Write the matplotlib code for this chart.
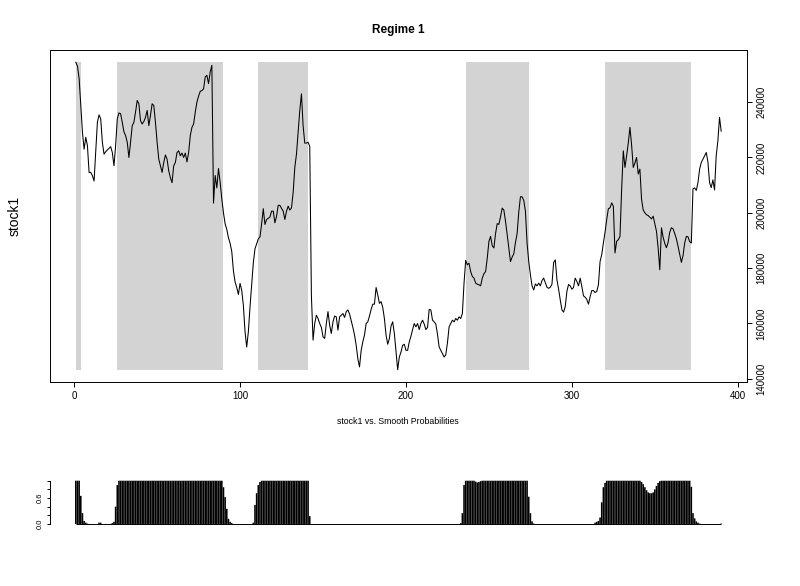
import numpy as np
import matplotlib
matplotlib.use('Agg')
import matplotlib.pyplot as plt

plt.rcParams['font.family'] = ['Liberation Sans', 'DejaVu Sans']

# ---- data ----
# stock1 series (in thousands), t = 1..390
stock1_k = [
    254.4, 253.0, 248.5, 238.8, 229.1, 223.0, 227.3, 224.3, 214.6, 214.6,
    213.4, 211.5, 221.8, 232.7, 235.4, 234.0, 225.5, 221.2, 222.1, 222.7,
    223.3, 223.9, 221.8, 217.0, 224.3, 234.0, 236.1, 235.8, 232.7, 229.3,
    227.9, 225.5, 220.0, 225.5, 231.5, 232.7, 236.4, 240.6, 239.4, 233.3,
    232.1, 233.0, 234.5, 237.0, 231.5, 235.2, 239.4, 238.8, 232.7, 225.5,
    219.4, 217.0, 214.6, 218.2, 220.9, 219.4, 215.2, 212.7, 210.9, 217.0,
    218.2, 221.8, 222.4, 220.6, 221.6, 220.0, 221.6, 218.4, 221.8, 227.9,
    230.9, 232.1, 236.4, 240.0, 242.2, 243.9, 244.2, 244.8, 249.1, 249.7,
    246.7, 250.9, 253.3, 203.5, 213.5, 209.0, 216.0, 211.0, 205.0, 200.0,
    196.0, 194.0, 191.0, 189.0, 186.0, 179.0, 175.0, 173.0, 170.5, 174.5,
    172.0, 166.5, 157.0, 151.5, 157.0, 166.0, 174.0, 182.0, 187.0, 188.8,
    190.6, 191.3, 196.0, 201.5, 195.8, 197.6, 198.0, 198.5, 200.6, 200.6,
    196.4, 198.8, 202.7, 202.7, 201.6, 200.6, 197.6, 200.6, 202.4, 201.0,
    201.8, 207.3, 216.4, 221.2, 229.1, 237.0, 243.0, 231.5, 225.2, 225.2,
    225.5, 224.0, 170.0, 154.0, 160.0, 163.0, 161.8, 160.0, 158.6, 155.2,
    154.6, 160.0, 164.3, 159.4, 156.4, 160.6, 162.7, 162.4, 157.6, 162.4,
    163.0, 163.6, 162.2, 164.3, 164.9, 163.4, 161.0, 158.6, 155.8, 152.1,
    147.3, 144.3, 150.3, 153.4, 155.8, 160.0, 160.6, 162.7, 165.1, 167.0,
    167.0, 173.0, 170.3, 167.3, 167.9, 165.8, 161.8, 155.8, 152.5, 154.6,
    159.1, 160.6, 156.4, 149.7, 143.3, 147.9, 149.7, 152.1, 152.5, 150.3,
    150.3, 153.4, 155.4, 157.8, 160.0, 158.8, 160.0, 157.8, 160.0, 161.2,
    159.8, 157.8, 158.6, 165.1, 164.9, 161.2, 160.6, 159.8, 156.1, 151.5,
    150.3, 149.1, 147.9, 148.7, 153.0, 158.8, 160.0, 161.2, 160.6, 161.8,
    161.2, 162.4, 161.8, 163.6, 174.6, 182.8, 181.2, 181.8, 178.8, 177.0,
    176.4, 174.6, 174.2, 174.0, 173.6, 176.4, 178.0, 178.8, 183.6, 189.7,
    191.5, 188.1, 187.3, 192.5, 196.1, 195.8, 198.6, 201.7, 201.0, 197.0,
    192.1, 186.9, 182.4, 184.0, 185.2, 189.3, 192.5, 200.3, 205.8, 205.8,
    204.5, 200.6, 189.1, 182.4, 177.6, 173.6, 172.1, 174.3, 173.6, 174.6,
    173.6, 175.5, 176.4, 174.8, 173.1, 172.7, 173.1, 174.2, 182.0, 183.0,
    175.8, 172.4, 168.5, 164.9, 164.1, 166.1, 171.6, 174.1, 173.6, 172.4,
    173.0, 176.4, 175.2, 173.6, 176.4, 173.4, 170.0, 169.5, 168.7, 167.0,
    169.7, 171.9, 171.9, 171.2, 171.6, 174.0, 182.4, 184.9, 189.1, 193.0,
    197.6, 201.5, 201.8, 203.6, 202.4, 185.5, 189.7, 190.3, 191.5, 208.5,
    222.4, 216.4, 220.6, 225.2, 230.9, 224.5, 216.4, 218.0, 220.0, 214.0,
    215.8, 204.9, 201.0, 200.0, 199.3, 199.0, 198.4, 197.8, 198.8, 196.0,
    193.3, 187.3, 179.4, 194.6, 191.2, 188.9, 187.4, 189.3, 193.0, 194.6,
    194.2, 192.5, 190.6, 187.9, 184.9, 182.1, 184.5, 189.1, 191.5, 191.3,
    189.6, 189.1, 208.7, 209.0, 208.1, 210.9, 215.8, 218.2, 219.4, 220.6,
    221.8, 218.4, 210.9, 209.1, 211.9, 208.3, 220.6, 226.0, 234.5, 229.5,
]

# smoothed probability of regime 1, t = 1..390
smooth_prob = [
    1, 1, 1, .65, .25, .07, .03, .01, 0, 0, 0, 0, 0, 0, .03, .03, 0, 0, 0, 0, 0, 0, .02, .05, .4, .9, 1, 1, 1, 1,
    1, 1, 1, 1, 1, 1, 1, 1, 1, 1, 1, 1, 1, 1, 1, 1, 1, 1, 1, 1, 1, 1, 1, 1, 1, 1, 1, 1, 1, 1,
    1, 1, 1, 1, 1, 1, 1, 1, 1, 1, 1, 1, 1, 1, 1, 1, 1, 1, 1, 1, 1, 1, 1, 1, 1, 1, 1, 1, 1, .85,
    .62, .35, .12, .05, .02, 0, 0, 0, 0, 0, 0, 0, 0, 0, 0, 0, 0, .03, .44, .71, .9, .97, 1, 1, 1, 1, 1, 1, 1, 1,
    1, 1, 1, 1, 1, 1, 1, 1, 1, 1, 1, 1, 1, 1, 1, 1, 1, 1, 1, 1, 1, .18, 0, 0, 0, 0, 0, 0, 0, 0,
    0, 0, 0, 0, 0, 0, 0, 0, 0, 0, 0, 0, 0, 0, 0, 0, 0, 0, 0, 0, 0, 0, 0, 0, 0, 0, 0, 0, 0, 0,
    0, 0, 0, 0, 0, 0, 0, 0, 0, 0, 0, 0, 0, 0, 0, 0, 0, 0, 0, 0, 0, 0, 0, 0, 0, 0, 0, 0, 0, 0,
    0, 0, 0, 0, 0, 0, 0, 0, 0, 0, 0, 0, 0, 0, 0, 0, 0, 0, 0, 0, 0, 0, .02, .25, .9, 1, 1, 1, 1, 1,
    1, .98, .96, .97, .99, 1, 1, 1, 1, 1, 1, 1, 1, 1, 1, 1, 1, 1, 1, 1, 1, 1, 1, 1, 1, 1, 1, 1, 1, 1,
    1, 1, 1, .63, .25, .06, .01, 0, 0, 0, 0, 0, 0, 0, 0, 0, 0, 0, 0, 0, 0, 0, 0, 0, 0, 0, 0, 0, 0, 0,
    0, 0, 0, 0, 0, 0, 0, 0, 0, 0, 0, 0, 0, .03, .05, .07, .15, .5, .85, .95, 1, 1, 1, 1, 1, 1, 1, 1, 1, 1,
    1, 1, 1, 1, 1, 1, 1, 1, 1, 1, 1, .97, .92, .85, .78, .73, .71, .71, .73, .8, .88, .95, .99, 1, 1, 1, 1, 1, 1, 1,
    1, 1, 1, 1, 1, 1, 1, 1, 1, 1, 1, .86, .25, .13, .06, .03, .01, 0, 0, 0, 0, 0, 0, 0, 0, 0, 0, 0, 0, .01,
]

# shaded periods (start, end) where regime 1 dominates
regime_spans = [(1, 4), (26, 90), (111, 141), (236, 274), (320, 372)]

xticks = [0, 100, 200, 300, 400]
yticks = [140000, 160000, 180000, 200000, 220000, 240000]
prob_ticks = [0.0, 0.2, 0.4, 0.6, 0.8, 1.0]
prob_labels = ['0.0', '', '', '0.6', '', '']

stock1 = np.array(stock1_k) * 1000
prob = np.array(smooth_prob)
t = np.arange(1, len(stock1) + 1)

W, H = 800, 586
fig = plt.figure(figsize=(W / 100, H / 100), dpi=100)

# ---- main panel ----
ax = fig.add_axes([50 / W, 1 - 382 / H, 697 / W, 332 / H])
lo, hi = stock1.min(), stock1.max()
for s, e in regime_spans:
    ax.fill_between([s, e], lo, hi, color='#d3d3d3', lw=0)
ax.plot(t, stock1, color='black', lw=0.75)

xr = t[-1] - t[0]
yr = hi - lo
ax.set_xlim(t[0] - 0.04 * xr, t[-1] + 0.04 * xr)
ax.set_ylim(lo - 0.04 * yr, hi + 0.04 * yr)

ax.set_xticks(xticks)
ax.set_xticklabels([str(v) for v in xticks])
ax.yaxis.tick_right()
ax.set_yticks(yticks)
ax.set_yticklabels([str(v) for v in yticks], rotation=90, va='center')
ax.tick_params(length=3.6, width=0.7, labelsize=7, pad=3)
for sp in ax.spines.values():
    sp.set_linewidth(0.7)

fig.text(398 / W, 1 - 30 / H, 'Regime 1', ha='center', va='center',
         fontsize=8.5, fontweight='bold')
fig.text(15 / W, 1 - 216 / H, 'stock1', ha='center', va='center',
         rotation=90, fontsize=10)
fig.text(398 / W, 1 - 421 / H, 'stock1 vs. Smooth Probabilities',
         ha='center', va='center', fontsize=6.3)

# ---- probability panel (type "h" bars) ----
ax2 = fig.add_axes([50 / W, 1 - 525.7 / H, 697 / W, 46.7 / H])
bars = ax2.vlines(t, 0, prob, colors='black', lw=1.15)
bars.set_snap(False)
ax2.hlines(0, t[0], t[-1], colors='black', lw=0.7)
ax2.set_xlim(t[0] - 0.04 * xr, t[-1] + 0.04 * xr)
ax2.set_ylim(-0.04, 1.04)
for k in ['top', 'right', 'bottom']:
    ax2.spines[k].set_visible(False)
ax2.spines['left'].set_bounds(0, 1)
ax2.spines['left'].set_linewidth(0.7)
ax2.set_xticks([])
ax2.set_yticks(prob_ticks)
ax2.set_yticklabels(prob_labels, rotation=90, va='center')
ax2.tick_params(length=2.5, width=0.7, labelsize=5.5, pad=2)

fig.savefig('out.png', dpi=100)
